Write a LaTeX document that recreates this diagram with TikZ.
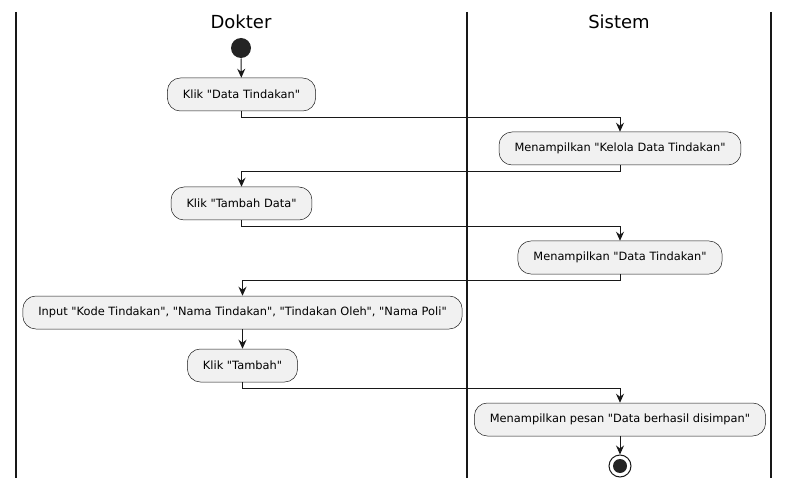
\documentclass[tikz,border=0pt]{standalone}
\usepackage{fontspec}
\setmainfont{DejaVu Sans}
\usetikzlibrary{arrows.meta}
\definecolor{actfill}{HTML}{F1F1F1}
\definecolor{ink}{HTML}{181818}
\newcommand{\dq}{\textquotedbl}
\tikzset{every picture/.style={line width=1pt}}
\tikzset{
  act/.style={draw=ink, fill=actfill, line width=0.5pt, rounded corners=13pt,
    minimum height=33pt, inner xsep=15.5pt, font=\fontsize{11.4}{13}\selectfont},
  lane/.style={font=\fontsize{18}{20}\selectfont},
  flow/.style={-{Stealth[length=9pt, width=8pt, inset=3pt]}, draw=ink},
}

\begin{document}
\begin{tikzpicture}[x=1pt, y=-1pt]
        \useasboundingbox (0,0) rectangle (790,489);
        % swimlanes
        \draw[ink, line width=1.3pt] (16,12) -- (16,478);
        \draw[ink, line width=1.3pt] (467,12) -- (467,478);
        \draw[ink, line width=1.3pt] (771,12) -- (771,478);
        \node[lane] (dokter) at (241,22) {Dokter};
        \node[lane] (sistem) at (619,22) {Sistem};
        % start and end
        \node[circle, fill=ink!95!white, minimum size=20pt, inner sep=0pt] (start) at (241,48) {};
        \node[circle, draw=ink, minimum size=22pt, inner sep=0pt] (stop) at (620,466) {};
        \node[circle, fill=ink!95!white, minimum size=14pt, inner sep=0pt] at (stop) {};
        % actions
        \node[act] (klikdata) at (241.5,94.5) {Klik \dq Data Tindakan\dq};
        \node[act] (kelola) at (620,148.5) {Menampilkan \dq Kelola Data Tindakan\dq};
        \node[act] (kliktambahdata) at (241.5,203.5) {Klik \dq Tambah Data\dq};
        \node[act] (tampildata) at (620,257.5) {Menampilkan \dq Data Tindakan\dq};
        \node[act] (input) at (242.5,312.5) {Input \dq Kode Tindakan\dq, \dq Nama Tindakan\dq, \dq Tindakan Oleh\dq, \dq Nama Poli\dq};
        \node[act] (kliktambah) at (242.5,365.5) {Klik \dq Tambah\dq};
        \node[act] (pesan) at (620,419.5) {Menampilkan pesan \dq Data berhasil disimpan\dq};
        % flows
        \draw[flow] (start) -- (klikdata);
        \draw[flow] (klikdata.south) -- ++(0,6) -| (kelola.north);
        \draw[flow] (kelola.south) -- ++(0,6) -| (kliktambahdata.north);
        \draw[flow] (kliktambahdata.south) -- ++(0,6) -| (tampildata.north);
        \draw[flow] (tampildata.south) -- ++(0,6) -| (input.north);
        \draw[flow] (input) -- (kliktambah);
        \draw[flow] (kliktambah.south) -- ++(0,6) -| (pesan.north);
        \draw[flow] (pesan) -- (stop);
\end{tikzpicture}
\end{document}
